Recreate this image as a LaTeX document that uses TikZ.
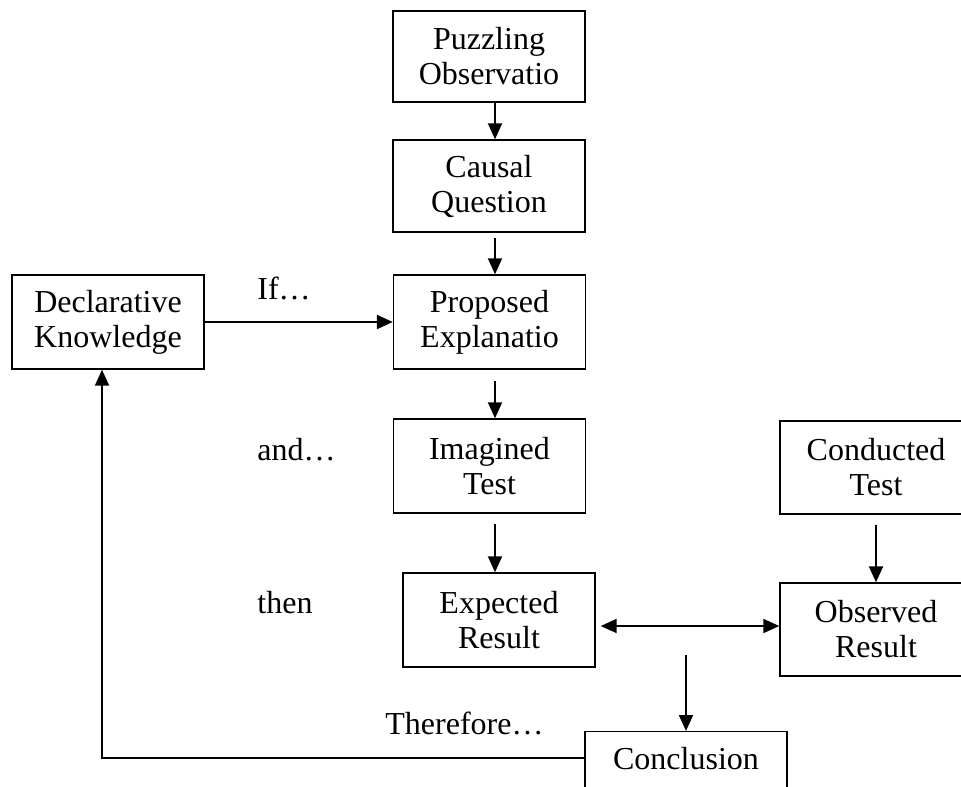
\documentclass[tikz,border=0pt]{standalone}
\usepackage{fontspec}
\setmainfont{Liberation Serif}
\usetikzlibrary{arrows.meta}

\begin{document}
\begin{tikzpicture}[x=0.5pt,y=-0.5pt,
   box/.style={draw, line width=0.7pt, minimum width=96pt, align=center,
      font=\fontsize{16}{17.5}\selectfont},
   lbl/.style={anchor=west, inner sep=0pt, font=\fontsize{16}{17.5}\selectfont},
   arr/.style={-{Triangle[length=8pt,width=7pt]}, line width=1pt},
   twoway/.style={{Triangle[length=8pt,width=7pt]}-{Triangle[length=8pt,width=7pt]}, line width=1pt}]
   \clip (0,0) rectangle (961,786);

   \node[box, minimum height=45.5pt] (puzzle) at (489,56.5) {Puzzling\\Observatio};
   \node[box, minimum height=46pt] (causal) at (489,186) {Causal\\Question};
   \node[box, minimum height=47pt] (prop) at (489.5,322) {Proposed\\Explanatio};
   \node[box, minimum height=47pt] (decl) at (108,322) {Declarative\\Knowledge};
   \node[box, minimum height=47pt] (imag) at (489.5,466) {Imagined\\Test};
   \node[box, minimum height=47pt] (expect) at (499,620) {Expected\\Result};
   \node[box, minimum height=46.5pt] (conduct) at (876,467.5) {Conducted\\Test};
   \node[box, minimum height=46.5pt] (observ) at (876,629.5) {Observed\\Result};
   \node[box, minimum width=101pt, inner ysep=8pt, text depth=15pt, anchor=north] (concl) at (686,731) {Conclusion};

   \node[lbl] (if) at (257,288) {If…};
   \node[lbl] (and) at (257,450) {and…};
   \node[lbl] (then) at (257,603) {then};
   \node[lbl] (therefore) at (385,723) {Therefore…};

   \coordinate (spine) at (495,0);
   \coordinate (cmp) at (0,626);
   \coordinate (split) at (686,655);
   \coordinate (back) at (102,758);

   \draw[arr] (puzzle.south -| spine) -- (causal.north -| spine);
   \draw[arr, shorten <=2.5pt] (causal.south -| spine) -- (prop.north -| spine);
   \draw[arr, shorten <=5.5pt] (prop.south -| spine) -- (imag.north -| spine);
   \draw[arr, shorten <=5pt] (imag.south -| spine) -- (expect.north -| spine);
   \draw[arr] (decl.east) -- (prop.west);
   \draw[arr, shorten <=5pt] (conduct.south) -- (observ.north);
   \draw[twoway, shorten <=2.5pt] (expect.east |- cmp) -- (observ.west |- cmp);
   \draw[arr] (split) -- (concl.north);
   \draw[arr] (concl.west |- back) -- (back) -- (back |- decl.south);
\end{tikzpicture}
\end{document}
